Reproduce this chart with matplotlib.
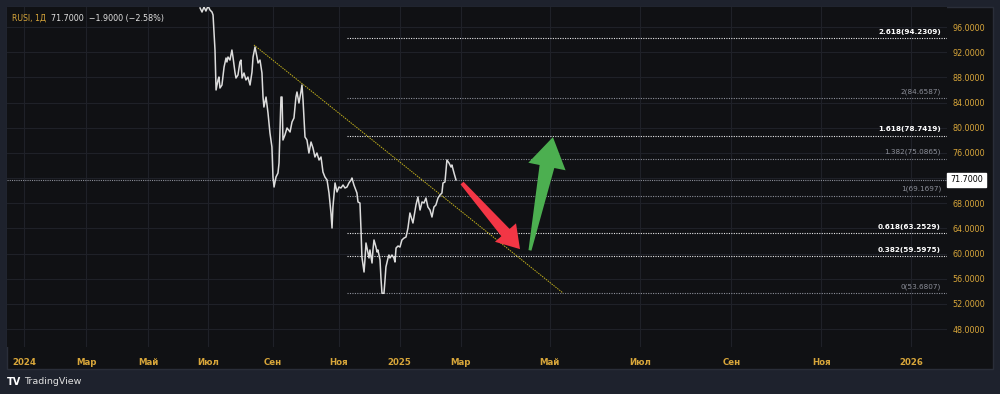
import matplotlib
matplotlib.use('Agg')
import matplotlib.pyplot as plt
from matplotlib.patches import Rectangle, Polygon
import numpy as np

# daily closes, x = trading-bar index counted from the first bar of 2024
bars = [116.6, 117.9, 119.2, 120.5, 121.9, 123.2, 124.5, 125.2, 126.5, 127.2,
        128.5, 129.1, 129.8, 131.1, 132.5, 133.8, 134.4, 135.1, 136.4, 137.7,
        138.4, 139.7, 140.4, 141.7, 143.0, 143.7, 144.4, 145.7, 147.0, 148.3,
        149.7, 151.0, 151.7, 153.0, 154.3, 155.0, 156.3, 157.6, 158.3, 158.9,
        160.3, 161.6, 162.9, 164.2, 164.9, 165.6, 166.9, 168.2, 168.9, 170.2,
        170.9, 171.5, 172.8, 174.2, 176.2, 177.5, 178.8, 180.1, 180.8, 182.1,
        183.4, 184.1, 184.8, 186.1, 187.4, 188.7, 190.1, 191.4, 192.7, 194.0,
        195.4, 196.7, 198.0, 199.3, 200.7, 202.0, 203.3, 204.0, 204.6, 206.0,
        207.3, 208.6, 209.9, 211.3, 212.6, 213.9, 215.2, 216.6, 217.2, 218.5,
        220.5, 221.2, 222.5, 223.2, 223.8, 225.2, 225.8, 226.5, 227.8, 228.5,
        229.1, 230.5, 231.1, 231.8, 233.1, 233.8, 234.4, 235.8, 236.4, 237.1,
        238.4, 239.1, 239.7, 241.1, 241.7, 242.4, 243.7, 245.0, 245.7, 246.4,
        247.7, 249.0, 250.3, 251.7, 253.0, 254.3, 255.6, 257.0, 257.6, 259.6,
        260.9, 262.3, 263.6, 264.9, 266.2, 267.5, 268.9, 270.2, 271.5, 272.8,
        274.2, 275.5, 276.8, 277.5, 278.8, 280.1, 281.5, 282.8, 283.4, 284.8,
        286.1]
closes = [99.02, 98.38, 99.18, 98.54, 99.34, 98.70, 98.38, 97.91, 92.34, 85.99,
          87.58, 88.05, 86.30, 86.78, 89.64, 91.07, 90.44, 91.23, 90.75, 92.34,
          91.23, 88.85, 87.89, 88.37, 90.44, 90.75, 87.89, 88.69, 87.58, 88.05,
          86.78, 88.85, 91.23, 92.82, 91.23, 90.28, 90.75, 88.69, 84.87, 83.28,
          84.87, 82.33, 79.15, 76.93, 72.16, 70.57, 72.16, 72.79, 74.38, 84.87,
          84.87, 78.04, 78.83, 79.95, 79.31, 80.90, 81.54, 84.87, 85.67, 83.92,
          85.67, 86.78, 84.40, 78.52, 78.04, 75.97, 77.72, 76.77, 75.34, 75.97,
          74.86, 75.34, 72.95, 72.16, 71.68, 69.62, 66.44, 64.05, 67.39, 71.21,
          69.78, 70.57, 70.41, 70.89, 70.41, 70.57, 71.21, 71.68, 72.00, 70.89,
          69.62, 68.19, 68.03, 63.74, 59.44, 57.06, 58.97, 61.67, 60.08, 59.29,
          60.56, 58.49, 60.56, 62.15, 61.03, 60.24, 60.56, 58.97, 56.11, 53.68,
          53.68, 55.79, 57.86, 59.29, 59.76, 59.29, 59.76, 59.29, 58.65, 60.87,
          61.19, 61.03, 62.15, 62.46, 62.62, 64.05, 66.44, 65.32, 64.85, 67.71,
          68.98, 66.91, 68.19, 68.03, 68.82, 67.39, 66.91, 65.80, 67.39, 67.71,
          68.82, 69.30, 69.62, 71.21, 71.36, 74.86, 74.38, 73.75, 74.07, 72.79,
          71.70]
last_price = 71.70

# fibonacci extension levels
fib_ratios = [0, 0.382, 0.618, 1, 1.382, 1.618, 2, 2.618]
fib_prices = [53.6807, 59.5975, 63.2529, 69.1697, 75.0865, 78.7419, 84.6587, 94.2309]
fib_bold = [False, True, True, False, False, True, False, True]
fib_start = 213.9

# trend line (bar, price)
trend_x = [152.3, 357.0]
trend_y = [93.14, 53.72]

# arrows: tail -> tip (bar, price)
red_arrow = [(290.1, 71.2), (328.5, 60.7)]
green_arrow = [(335.1, 60.5), (350.3, 78.5)]

tick_pos = [0, 41.1, 82.1, 121.9, 164.9, 208.6, 248.7, 289.2, 348.3, 408.1, 468.4, 528.0, 587.6]
tick_lab = ['2024', 'Мар', 'Май', 'Июл', 'Сен', 'Ноя', '2025', 'Мар', 'Май', 'Июл', 'Сен', 'Ноя', '2026']
price_ticks = np.arange(48, 97, 4)

BG = '#1e222d'
PANEL = '#101114'
GRID = '#1f2128'
GOLD = '#d8a63a'

fig = plt.figure(figsize=(10, 3.94), dpi=100, facecolor=BG)
fig.patches.append(Rectangle((7/1000, 1-369/394), 986/1000, 362/394, transform=fig.transFigure,
                             facecolor=PANEL, edgecolor='#2a2e39', lw=1, zorder=-10))
ax = fig.add_axes([7/1000, 1-347/394, 940/1000, 340/394])
ax.set_facecolor(PANEL)
for s in ax.spines.values():
    s.set_visible(False)

ax.set_xlim(-11.26, 611.3)
ax.set_ylim(45.14, 99.18)

ax.yaxis.tick_right()
ax.set_yticks(price_ticks)
# the 72 label sits under the last-price box
ax.set_yticklabels(['' if v == 72 else '%.4f' % v for v in price_ticks])
ax.set_xticks(tick_pos)
ax.set_xticklabels(tick_lab)
ax.tick_params(axis='y', length=0, pad=4, labelsize=5.8, labelcolor=GOLD)
ax.tick_params(axis='x', length=0, pad=8, labelsize=6.2, labelcolor=GOLD)
for t in ax.get_xticklabels():
    t.set_fontweight('bold')
ax.grid(True, color=GRID, lw=0.8, zorder=0)
ax.set_axisbelow(True)

# price line
ax.plot(bars, closes, color='#dcdcdc', lw=1.1, zorder=4, solid_joinstyle='round')

# last price line + label
ax.axhline(last_price, color='#8c8f99', lw=0.8, ls=(0, (1, 1)), zorder=2)
ax.annotate('%.4f' % last_price, xy=(1.0, last_price), xycoords=('axes fraction', 'data'),
            xytext=(14, 0), textcoords='offset points', ha='center', va='center',
            fontsize=5.8, color='#000000', annotation_clip=False,
            bbox=dict(boxstyle='square,pad=0.35', fc='white', ec='white'))

# fibonacci levels
for r, p, b in zip(fib_ratios, fib_prices, fib_bold):
    col = '#e8e8ea' if b else '#8c8f99'
    ax.plot([fib_start, ax.get_xlim()[1]], [p, p], color=col, lw=0.8, ls=(0, (1, 1.2)), zorder=3)
    ax.annotate('%g(%.4f)' % (r, p), xy=(0.9936, p), xycoords=('axes fraction', 'data'),
                xytext=(0, 2.5), textcoords='offset points', ha='right', va='bottom',
                fontsize=5.2, color='white' if b else '#8c8f99',
                fontweight='bold' if b else 'normal')

# trend line
ax.plot(trend_x, trend_y, color='#c2b01c', lw=0.7, ls=(0, (1.5, 1)), zorder=3)


def fat_arrow(tail, tip, w_tail, w_neck, head_w, head_len, color):
    # widths are in pixels, built in display space then mapped back to data
    p0 = ax.transData.transform(tail)
    p1 = ax.transData.transform(tip)
    d = p1 - p0
    L = np.hypot(*d)
    u = d / L
    n = np.array([-u[1], u[0]])
    neck = p1 - u * head_len
    pts = [p0 + n * w_tail / 2, neck + n * w_neck / 2, neck + n * head_w / 2, p1,
           neck - n * head_w / 2, neck - n * w_neck / 2, p0 - n * w_tail / 2]
    pts = ax.transData.inverted().transform(np.array(pts))
    ax.add_patch(Polygon(pts, closed=True, facecolor=color, edgecolor='none', zorder=6))


fat_arrow(red_arrow[0], red_arrow[1], 4, 11, 28, 22, '#f23645')
fat_arrow(green_arrow[0], green_arrow[1], 3, 15, 38, 30, '#4caf50')

# header and footer
fig.text(12/1000, 1-18/394, 'RUSI, 1Д', color=GOLD, fontsize=5.6, va='center', ha='left')
fig.text(51/1000, 1-18/394, '71.7000  −1.9000 (−2.58%)', color='#e0e0e0', fontsize=5.8,
         va='center', ha='left')
fig.text(7/1000, 1-382/394, 'TV', color='white', fontsize=7, fontweight='bold', va='center', ha='left')
fig.text(24/1000, 1-382/394, 'TradingView', color='#e0e0e0', fontsize=6.8, va='center', ha='left')

fig.savefig('out.png', dpi=100, facecolor=BG)
